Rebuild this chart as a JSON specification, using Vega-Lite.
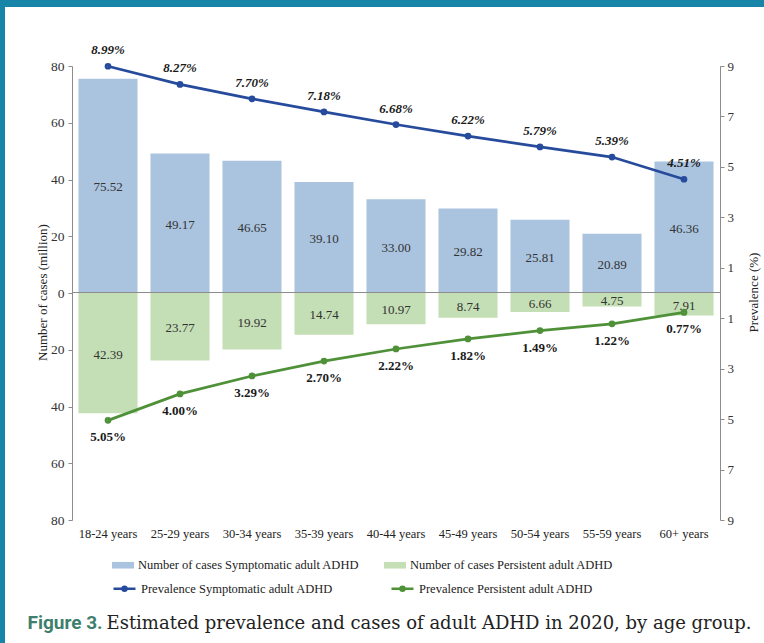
{
  "$schema": "https://vega.github.io/schema/vega-lite/v6.json",
  "width": 759,
  "height": 636,
  "autosize": {"type": "none"},
  "padding": {"left": 5, "top": 7, "right": 0, "bottom": 0},
  "background": "#1785a8",
  "config": {
    "view": {"fill": "white", "stroke": null},
    "axis": {"grid": false},
    "font": "Liberation Serif"
  },
  "datasets": {
    "rows": [
      {"age": "18-24 years", "series": "Number of cases Symptomatic adult ADHD", "value": 75.52},
      {"age": "25-29 years", "series": "Number of cases Symptomatic adult ADHD", "value": 49.17},
      {"age": "30-34 years", "series": "Number of cases Symptomatic adult ADHD", "value": 46.65},
      {"age": "35-39 years", "series": "Number of cases Symptomatic adult ADHD", "value": 39.10},
      {"age": "40-44 years", "series": "Number of cases Symptomatic adult ADHD", "value": 33.00},
      {"age": "45-49 years", "series": "Number of cases Symptomatic adult ADHD", "value": 29.82},
      {"age": "50-54 years", "series": "Number of cases Symptomatic adult ADHD", "value": 25.81},
      {"age": "55-59 years", "series": "Number of cases Symptomatic adult ADHD", "value": 20.89},
      {"age": "60+ years", "series": "Number of cases Symptomatic adult ADHD", "value": 46.36},
      {"age": "18-24 years", "series": "Number of cases Persistent adult ADHD", "value": 42.39},
      {"age": "25-29 years", "series": "Number of cases Persistent adult ADHD", "value": 23.77},
      {"age": "30-34 years", "series": "Number of cases Persistent adult ADHD", "value": 19.92},
      {"age": "35-39 years", "series": "Number of cases Persistent adult ADHD", "value": 14.74},
      {"age": "40-44 years", "series": "Number of cases Persistent adult ADHD", "value": 10.97},
      {"age": "45-49 years", "series": "Number of cases Persistent adult ADHD", "value": 8.74},
      {"age": "50-54 years", "series": "Number of cases Persistent adult ADHD", "value": 6.66},
      {"age": "55-59 years", "series": "Number of cases Persistent adult ADHD", "value": 4.75},
      {"age": "60+ years", "series": "Number of cases Persistent adult ADHD", "value": 7.91},
      {"age": "18-24 years", "series": "Prevalence Symptomatic adult ADHD", "value": 0.0899},
      {"age": "25-29 years", "series": "Prevalence Symptomatic adult ADHD", "value": 0.0827},
      {"age": "30-34 years", "series": "Prevalence Symptomatic adult ADHD", "value": 0.0770},
      {"age": "35-39 years", "series": "Prevalence Symptomatic adult ADHD", "value": 0.0718},
      {"age": "40-44 years", "series": "Prevalence Symptomatic adult ADHD", "value": 0.0668},
      {"age": "45-49 years", "series": "Prevalence Symptomatic adult ADHD", "value": 0.0622},
      {"age": "50-54 years", "series": "Prevalence Symptomatic adult ADHD", "value": 0.0579},
      {"age": "55-59 years", "series": "Prevalence Symptomatic adult ADHD", "value": 0.0539},
      {"age": "60+ years", "series": "Prevalence Symptomatic adult ADHD", "value": 0.0451},
      {"age": "18-24 years", "series": "Prevalence Persistent adult ADHD", "value": 0.0505},
      {"age": "25-29 years", "series": "Prevalence Persistent adult ADHD", "value": 0.0400},
      {"age": "30-34 years", "series": "Prevalence Persistent adult ADHD", "value": 0.0329},
      {"age": "35-39 years", "series": "Prevalence Persistent adult ADHD", "value": 0.0270},
      {"age": "40-44 years", "series": "Prevalence Persistent adult ADHD", "value": 0.0222},
      {"age": "45-49 years", "series": "Prevalence Persistent adult ADHD", "value": 0.0182},
      {"age": "50-54 years", "series": "Prevalence Persistent adult ADHD", "value": 0.0149},
      {"age": "55-59 years", "series": "Prevalence Persistent adult ADHD", "value": 0.0122},
      {"age": "60+ years", "series": "Prevalence Persistent adult ADHD", "value": 0.0077}
    ]
  },
  "data": {"name": "rows"},
  "resolve": {
    "scale": {"y": "independent"},
    "axis": {"x": "independent", "y": "independent"}
  },
  "layer": [
    {
      "transform": [{"filter": "datum.series === 'Number of cases Symptomatic adult ADHD'"}],
      "mark": {"type": "bar"},
      "encoding": {
        "x": {
          "field": "age", "type": "nominal",
          "scale": {
            "domain": ["18-24 years", "25-29 years", "30-34 years", "35-39 years", "40-44 years", "45-49 years", "50-54 years", "55-59 years", "60+ years"],
            "range": [67, 715], "paddingInner": 0.18, "paddingOuter": 0.09
          },
          "axis": {
            "orient": "bottom", "offset": -123, "domain": false, "ticks": false,
            "labelAngle": 0, "labelOverlap": false, "labelPadding": 7, "labelBaseline": "top",
            "labelFont": "Liberation Serif", "labelFontSize": 12.5, "labelColor": "#222",
            "title": "Estimated prevalence and cases of adult ADHD in 2020, by age group.",
            "titleFont": "DejaVu Serif", "titleFontSize": 18, "titleFontWeight": "normal",
            "titleColor": "#222", "titleX": 101, "titleY": 108, "titleAlign": "left",
            "titleBaseline": "alphabetic", "titleAngle": 0
          }
        },
        "y": {
          "field": "value", "type": "quantitative",
          "scale": {"domain": [-80, 80], "range": [513, 59], "nice": false, "zero": false},
          "axis": {
            "orient": "left", "offset": -67,
            "values": [-80, -60, -40, -20, 0, 20, 40, 60, 80],
            "labelExpr": "format(abs(datum.value), 'd')",
            "labelFont": "Liberation Serif", "labelFontSize": 13.5, "labelColor": "#333",
            "labelPadding": 4, "tickSize": 4, "tickColor": "#8c8c8c", "domainColor": "#8c8c8c",
            "title": "Number of cases (million)", "titleFont": "Liberation Serif",
            "titleFontSize": 13, "titleFontWeight": "normal", "titleColor": "#222",
            "titleAngle": 270, "titleX": -30, "titleY": 285, "titleAlign": "center", "titleBaseline": "middle"
          }
        },
        "fill": {
          "field": "series", "type": "nominal",
          "scale": {
            "domain": ["Number of cases Symptomatic adult ADHD", "Number of cases Persistent adult ADHD"],
            "range": ["#aac4df", "#c4dfb5"]
          },
          "legend": {
            "orient": "none", "legendX": 107, "legendY": 547, "direction": "horizontal", "title": null,
            "columnPadding": 24, "padding": 0, "symbolType": "M-1,-0.3H1V0.3H-1Z", "symbolSize": 484,
            "symbolStrokeWidth": 0, "labelOffset": 4,
            "labelFont": "Liberation Serif", "labelFontSize": 12.5, "labelColor": "#222", "labelLimit": 400
          }
        }
      }
    },
    {
      "transform": [{"filter": "datum.series === 'Number of cases Persistent adult ADHD'"}],
      "mark": {"type": "bar"},
      "encoding": {
        "x": {
          "field": "age", "type": "nominal",
          "axis": {
            "orient": "top", "offset": -285, "labels": false, "ticks": false,
            "domain": true, "domainColor": "#8c8c8c", "domainWidth": 1, "zindex": 1,
            "title": "Figure 3.", "titleFont": "Roboto", "titleFontSize": 19, "titleFontWeight": "bold",
            "titleColor": "#3f7f6d", "titleX": 22, "titleY": 336, "titleAlign": "left",
            "titleBaseline": "alphabetic", "titleAngle": 0
          }
        },
        "y": {
          "field": "value", "type": "quantitative",
          "scale": {"domain": [-80, 80], "range": [59, 513], "nice": false, "zero": false},
          "axis": null
        },
        "fill": {
          "field": "series", "type": "nominal",
          "scale": {
            "domain": ["Number of cases Symptomatic adult ADHD", "Number of cases Persistent adult ADHD"],
            "range": ["#aac4df", "#c4dfb5"]
          },
          "legend": {
            "orient": "none", "legendX": 107, "legendY": 547, "direction": "horizontal", "title": null,
            "columnPadding": 24, "padding": 0, "symbolType": "M-1,-0.3H1V0.3H-1Z", "symbolSize": 484,
            "symbolStrokeWidth": 0, "labelOffset": 4,
            "labelFont": "Liberation Serif", "labelFontSize": 12.5, "labelColor": "#222", "labelLimit": 400
          }
        }
      }
    },
    {
      "transform": [{"filter": "datum.series === 'Number of cases Symptomatic adult ADHD'"}],
      "mark": {"type": "text", "baseline": "middle", "align": "center", "dy": 1.5, "font": "Liberation Serif", "fontSize": 13, "color": "#333"},
      "encoding": {
        "x": {"field": "age", "type": "nominal", "axis": null},
        "y": {
          "field": "value", "type": "quantitative",
          "scale": {"domain": [-160, 160], "range": [513, 59], "nice": false, "zero": false},
          "axis": null
        },
        "text": {"field": "value", "type": "quantitative", "format": ".2f"}
      }
    },
    {
      "transform": [{"filter": "datum.series === 'Number of cases Persistent adult ADHD'"}],
      "mark": {"type": "text", "baseline": "middle", "align": "center", "dy": 1.5, "font": "Liberation Serif", "fontSize": 13, "color": "#333"},
      "encoding": {
        "x": {"field": "age", "type": "nominal", "axis": null},
        "y": {
          "field": "value", "type": "quantitative",
          "scale": {"domain": [-160, 160], "range": [59, 513], "nice": false, "zero": false},
          "axis": null
        },
        "text": {"field": "value", "type": "quantitative", "format": ".2f"}
      }
    },
    {
      "transform": [{"filter": "datum.series === 'Prevalence Symptomatic adult ADHD'"}],
      "mark": {"type": "line", "strokeWidth": 2.75},
      "encoding": {
        "x": {"field": "age", "type": "nominal", "axis": null},
        "y": {
          "field": "value", "type": "quantitative",
          "scale": {"domain": [-0.09, 0.09], "range": [513, 59], "nice": false, "zero": false},
          "axis": {
            "orient": "right", "offset": -44,
            "values": [-0.09, -0.07, -0.05, -0.03, -0.01, 0.01, 0.03, 0.05, 0.07, 0.09],
            "labelExpr": "format(abs(datum.value) * 100, '.0f')",
            "labelFont": "Liberation Serif", "labelFontSize": 13, "labelColor": "#333",
            "labelPadding": 3, "tickSize": 4, "tickColor": "#8c8c8c", "domainColor": "#8c8c8c",
            "title": "Prevalence (%)", "titleFont": "Liberation Serif", "titleFontSize": 13,
            "titleFontWeight": "normal", "titleColor": "#222", "titleAngle": 270,
            "titleX": 33, "titleY": 285, "titleAlign": "center", "titleBaseline": "middle"
          }
        },
        "stroke": {
          "field": "series", "type": "nominal",
          "scale": {
            "domain": ["Prevalence Symptomatic adult ADHD", "Prevalence Persistent adult ADHD"],
            "range": ["#274b9c", "#4f9139"]
          },
          "legend": {
            "orient": "none", "legendX": 107, "legendY": 569, "direction": "horizontal", "title": null,
            "columnPadding": 53, "padding": 0,
            "symbolType": "M-1,0H1M0.18,0A0.18,0.18,0,1,1,-0.18,0A0.18,0.18,0,1,1,0.18,0Z",
            "symbolSize": 484, "symbolStrokeWidth": 2.5, "labelOffset": 4,
            "labelFont": "Liberation Serif", "labelFontSize": 12.5, "labelColor": "#222", "labelLimit": 400
          }
        }
      }
    },
    {
      "transform": [{"filter": "datum.series === 'Prevalence Persistent adult ADHD'"}],
      "mark": {"type": "line", "strokeWidth": 2.75},
      "encoding": {
        "x": {"field": "age", "type": "nominal", "axis": null},
        "y": {
          "field": "value", "type": "quantitative",
          "scale": {"domain": [-0.09, 0.09], "range": [59, 513], "nice": false, "zero": false},
          "axis": null
        },
        "stroke": {
          "field": "series", "type": "nominal",
          "scale": {
            "domain": ["Prevalence Symptomatic adult ADHD", "Prevalence Persistent adult ADHD"],
            "range": ["#274b9c", "#4f9139"]
          },
          "legend": {
            "orient": "none", "legendX": 107, "legendY": 569, "direction": "horizontal", "title": null,
            "columnPadding": 53, "padding": 0,
            "symbolType": "M-1,0H1M0.18,0A0.18,0.18,0,1,1,-0.18,0A0.18,0.18,0,1,1,0.18,0Z",
            "symbolSize": 484, "symbolStrokeWidth": 2.5, "labelOffset": 4,
            "labelFont": "Liberation Serif", "labelFontSize": 12.5, "labelColor": "#222", "labelLimit": 400
          }
        }
      }
    },
    {
      "transform": [{"filter": "datum.series === 'Prevalence Symptomatic adult ADHD'"}],
      "mark": {"type": "point", "filled": false, "size": 14, "strokeWidth": 3, "opacity": 1},
      "encoding": {
        "x": {"field": "age", "type": "nominal", "axis": null},
        "y": {
          "field": "value", "type": "quantitative",
          "scale": {"domain": [-0.09, 0.09], "range": [513, 59], "nice": false, "zero": false},
          "axis": null
        },
        "stroke": {"field": "series", "type": "nominal", "legend": null}
      }
    },
    {
      "transform": [{"filter": "datum.series === 'Prevalence Persistent adult ADHD'"}],
      "mark": {"type": "point", "filled": false, "size": 14, "strokeWidth": 3, "opacity": 1},
      "encoding": {
        "x": {"field": "age", "type": "nominal", "axis": null},
        "y": {
          "field": "value", "type": "quantitative",
          "scale": {"domain": [-0.09, 0.09], "range": [59, 513], "nice": false, "zero": false},
          "axis": null
        },
        "stroke": {"field": "series", "type": "nominal", "legend": null}
      }
    },
    {
      "transform": [{"filter": "datum.series === 'Prevalence Symptomatic adult ADHD'"}],
      "mark": {"type": "text", "baseline": "middle", "align": "center", "dy": -16, "font": "Liberation Serif", "fontSize": 13, "fontWeight": "bold", "fontStyle": "italic", "color": "#1a1a1a"},
      "encoding": {
        "x": {"field": "age", "type": "nominal", "axis": null},
        "y": {
          "field": "value", "type": "quantitative",
          "scale": {"domain": [-0.09, 0.09], "range": [513, 59], "nice": false, "zero": false},
          "axis": null
        },
        "text": {"field": "value", "type": "quantitative", "format": ".2%"}
      }
    },
    {
      "transform": [{"filter": "datum.series === 'Prevalence Persistent adult ADHD'"}],
      "mark": {"type": "text", "baseline": "middle", "align": "center", "dy": 17, "font": "Liberation Serif", "fontSize": 13, "fontWeight": "bold", "color": "#1a1a1a"},
      "encoding": {
        "x": {"field": "age", "type": "nominal", "axis": null},
        "y": {
          "field": "value", "type": "quantitative",
          "scale": {"domain": [-0.09, 0.09], "range": [59, 513], "nice": false, "zero": false},
          "axis": null
        },
        "text": {"field": "value", "type": "quantitative", "format": ".2%"}
      }
    }
  ]
}
